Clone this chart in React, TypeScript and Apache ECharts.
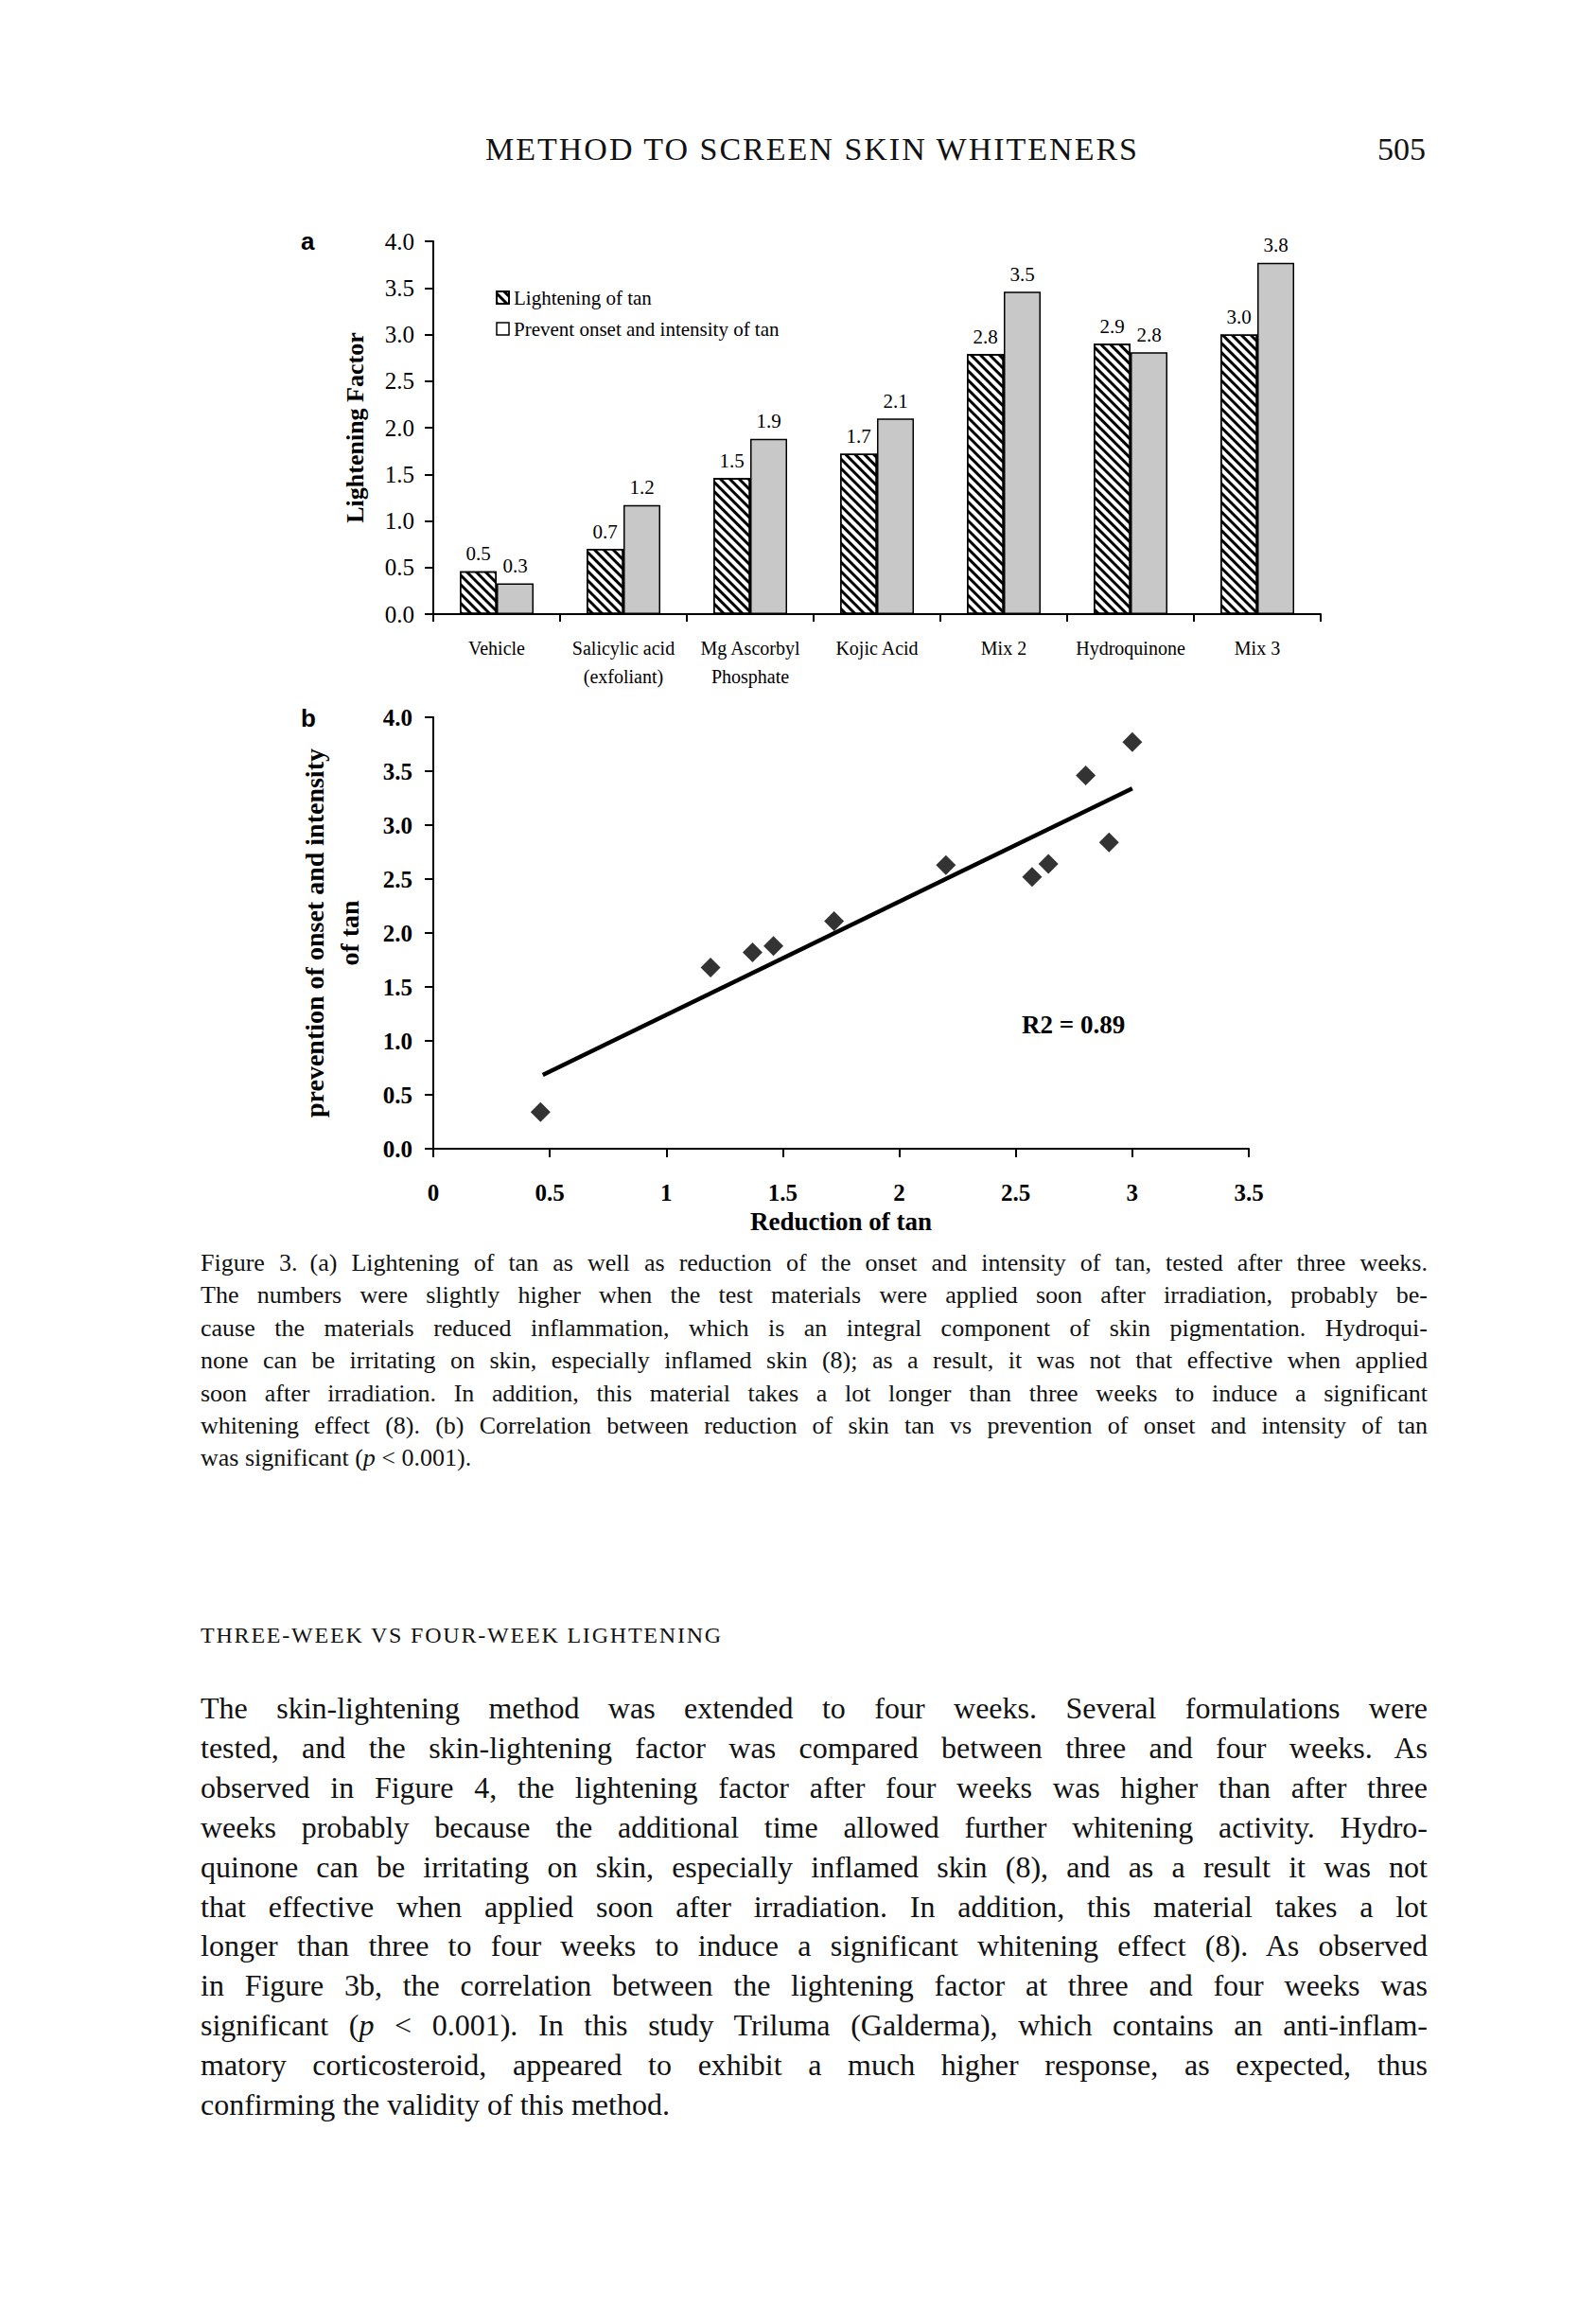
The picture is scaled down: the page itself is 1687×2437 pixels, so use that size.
import React, { useEffect, useRef } from "react";
import * as echarts from "echarts";

const SERIF = "'Liberation Serif', 'DejaVu Serif', serif";
const SANS = "'Liberation Sans', Arial, sans-serif";

// ---- Figure 3a data ----
const categories = [
  "Vehicle",
  "Salicylic acid\n(exfoliant)",
  "Mg Ascorbyl\nPhosphate",
  "Kojic Acid",
  "Mix 2",
  "Hydroquinone",
  "Mix 3",
];
const lighteningOfTan = [0.46, 0.7, 1.46, 1.72, 2.79, 2.9, 3.0];
const preventOnset = [0.33, 1.17, 1.88, 2.1, 3.46, 2.81, 3.77];
const seriesNames = ["Lightening of tan", "Prevent onset and intensity of tan"];

// ---- Figure 3b data ----
const reductionOfTan = [0.46, 1.19, 1.37, 1.46, 1.72, 2.2, 2.57, 2.64, 2.8, 2.9, 3.0];
const preventionOfTan = [0.34, 1.68, 1.82, 1.88, 2.11, 2.63, 2.52, 2.64, 3.46, 2.84, 3.77];
const trendX = [0.47, 3.0];
const trendY = [0.685, 3.34];
const yTicksA = [0, 4, 0.5];
const xTicksB = [0, 3.5, 0.5];

const captionLines = [
  "Figure 3.\u2002(a) Lightening of tan as well as reduction of the onset and intensity of tan, tested after three weeks.",
  "The numbers were slightly higher when the test materials were applied soon after irradiation, probably be-",
  "cause the materials reduced inflammation, which is an integral component of skin pigmentation. Hydroqui-",
  "none can be irritating on skin, especially inflamed skin (8); as a result, it was not that effective when applied",
  "soon after irradiation. In addition, this material takes a lot longer than three weeks to induce a significant",
  "whitening effect (8). (b) Correlation between reduction of skin tan vs prevention of onset and intensity of tan",
];

const bodyLines = [
  "The skin-lightening method was extended to four weeks. Several formulations were",
  "tested, and the skin-lightening factor was compared between three and four weeks. As",
  "observed in Figure 4, the lightening factor after four weeks was higher than after three",
  "weeks probably because the additional time allowed further whitening activity. Hydro-",
  "quinone can be irritating on skin, especially inflamed skin (8), and as a result it was not",
  "that effective when applied soon after irradiation. In addition, this material takes a lot",
  "longer than three to four weeks to induce a significant whitening effect (8). As observed",
  "in Figure 3b, the correlation between the lightening factor at three and four weeks was",
];
const bodyLinesAfterP = [
  "). In this study Triluma (Galderma), which contains an anti-inflam-",
];
const bodyLinesEnd = [
  "matory corticosteroid, appeared to exhibit a much higher response, as expected, thus",
];

function Chart() {
  const ref = useRef<HTMLDivElement>(null);
  useEffect(() => {
    if (!ref.current) return;
    const chart = echarts.init(ref.current, undefined, { renderer: "svg" });
    const axisLineStyle = { color: "#000", width: 2 };
    const hatch = {
      symbol: "rect",
      symbolSize: 1,
      dashArrayX: [1, 0],
      dashArrayY: [3, 4],
      rotation: Math.PI / 4,
      color: "#000",
      backgroundColor: "#fff",
    };
    const option: any = {
      animation: false,
      backgroundColor: "#fff",
      textStyle: { fontFamily: SERIF, color: "#000" },
      grid: [
        { left: 458, top: 255, width: 938, height: 394, outerBoundsMode: "none" },
        { left: 458, top: 758, width: 862, height: 456, outerBoundsMode: "none" },
      ],
      legend: {
        orient: "vertical",
        left: 519,
        top: 299,
        itemWidth: 13,
        itemHeight: 13,
        itemGap: 12,
        selectedMode: false,
        icon: "rect",
        textStyle: { fontFamily: SERIF, fontSize: 21, color: "#000" },
        data: [
          { name: seriesNames[0] },
          { name: seriesNames[1], itemStyle: { color: "#fff", borderColor: "#000", borderWidth: 1.5 } },
        ],
      },
      xAxis: [
        {
          type: "category",
          gridIndex: 0,
          data: categories,
          axisLine: { lineStyle: axisLineStyle },
          axisTick: { show: true, length: 8, lineStyle: axisLineStyle },
          axisLabel: {
            interval: 0,
            fontFamily: SERIF,
            fontSize: 20,
            lineHeight: 30,
            color: "#000",
            margin: 21,
          },
          splitLine: { show: false },
        },
        {
          type: "value",
          gridIndex: 1,
          min: xTicksB[0],
          max: xTicksB[1],
          interval: xTicksB[2],
          axisLine: { show: true, lineStyle: axisLineStyle },
          axisTick: { show: true, length: 9, lineStyle: axisLineStyle },
          axisLabel: {
            fontFamily: SERIF,
            fontWeight: "bold",
            fontSize: 25,
            color: "#000",
            margin: 34,
          },
          splitLine: { show: false },
          name: "Reduction of tan",
          nameLocation: "middle",
          nameGap: 63,
          nameTextStyle: { fontFamily: SERIF, fontWeight: "bold", fontSize: 27, color: "#000" },
        },
      ],
      yAxis: [
        {
          type: "value",
          gridIndex: 0,
          min: yTicksA[0],
          max: yTicksA[1],
          interval: yTicksA[2],
          axisLine: { show: true, lineStyle: axisLineStyle },
          axisTick: { show: true, length: 9, lineStyle: axisLineStyle },
          axisLabel: {
            fontFamily: SERIF,
            fontSize: 25,
            color: "#000",
            margin: 20,
            formatter: (v: number) => v.toFixed(1),
          },
          splitLine: { show: false },
          name: "Lightening Factor",
          nameLocation: "middle",
          nameGap: 70,
          nameTextStyle: { fontFamily: SERIF, fontWeight: "bold", fontSize: 26, color: "#000" },
        },
        {
          type: "value",
          gridIndex: 1,
          min: 0,
          max: 4,
          interval: 0.5,
          axisLine: { show: true, lineStyle: axisLineStyle },
          axisTick: { show: true, length: 9, lineStyle: axisLineStyle },
          axisLabel: {
            fontFamily: SERIF,
            fontWeight: "bold",
            fontSize: 25,
            color: "#000",
            margin: 22,
            formatter: (v: number) => v.toFixed(1),
          },
          splitLine: { show: false },
          name: "prevention of onset and intensity\nof tan",
          nameLocation: "middle",
          nameGap: 70,
          nameTextStyle: {
            fontFamily: SERIF,
            fontWeight: "bold",
            fontSize: 28,
            lineHeight: 37,
            color: "#000",
          },
        },
      ],
      series: [
        {
          name: seriesNames[0],
          type: "bar",
          xAxisIndex: 0,
          yAxisIndex: 0,
          data: lighteningOfTan,
          barWidth: 39,
          barGap: "0%",
          itemStyle: { color: "#fff", borderColor: "#000", borderWidth: 1.5, decal: hatch },
          label: {
            show: true,
            position: "top",
            distance: 8,
            fontFamily: SERIF,
            fontSize: 21,
            color: "#000",
            formatter: (p: any) => Number(p.value).toFixed(1),
          },
        },
        {
          name: seriesNames[1],
          type: "bar",
          xAxisIndex: 0,
          yAxisIndex: 0,
          data: preventOnset,
          barWidth: 39,
          barGap: "0%",
          itemStyle: { color: "#c8c8c8", borderColor: "#000", borderWidth: 1.5 },
          label: {
            show: true,
            position: "top",
            distance: 8,
            fontFamily: SERIF,
            fontSize: 21,
            color: "#000",
            formatter: (p: any) => Number(p.value).toFixed(1),
          },
        },
        {
          name: "points",
          type: "scatter",
          xAxisIndex: 1,
          yAxisIndex: 1,
          symbol: "diamond",
          symbolSize: 21,
          itemStyle: { color: "#000" },
          data: reductionOfTan.map((x, i) => [x, preventionOfTan[i]]),
        },
        {
          name: "trend",
          type: "line",
          xAxisIndex: 1,
          yAxisIndex: 1,
          showSymbol: false,
          lineStyle: { color: "#000", width: 4.5 },
          data: trendX.map((x, i) => [x, trendY[i]]),
        },
      ],
      graphic: [
        {
          type: "text",
          left: 318,
          top: 242,
          style: { text: "a", font: `bold 26px ${SANS}`, fill: "#000" },
        },
        {
          type: "text",
          left: 318,
          top: 746,
          style: { text: "b", font: `bold 26px ${SANS}`, fill: "#000" },
        },
        {
          type: "text",
          left: 1080,
          top: 1069,
          style: { text: "R2 = 0.89", font: `bold 27px ${SERIF}`, fill: "#000" },
        },
      ],
    };
    chart.setOption(option);
    return () => chart.dispose();
  }, []);
  return (
    <div
      ref={ref}
      style={{ position: "absolute", left: 0, top: 0, width: 1687, height: 1320 }}
    />
  );
}

const justify: React.CSSProperties = { textAlign: "justify", textAlignLast: "justify" as any };

export default function App() {
  return (
    <div
      style={{
        position: "absolute",
        left: 0,
        top: 0,
        width: 1687,
        height: 2437,
        background: "#fff",
        fontFamily: SERIF,
        color: "#111",
        overflow: "hidden",
      }}
    >
      <Chart />
      <div
        style={{
          position: "absolute",
          left: 513,
          top: 138,
          fontSize: 34,
          lineHeight: "40px",
          letterSpacing: 2,
        }}
      >
        METHOD TO SCREEN SKIN WHITENERS
      </div>
      <div
        style={{
          position: "absolute",
          right: 1687 - 1507,
          top: 138,
          fontSize: 34,
          lineHeight: "40px",
        }}
      >
        505
      </div>
      <div
        style={{
          position: "absolute",
          left: 212,
          top: 1318,
          width: 1297,
          fontSize: 26,
          lineHeight: "34.4px",
        }}
      >
        {captionLines.map((l, i) => (
          <div key={i} style={justify}>
            {l}
          </div>
        ))}
        <div>
          was significant (<i>p</i> &lt; 0.001).
        </div>
      </div>
      <div
        style={{
          position: "absolute",
          left: 212,
          top: 1713,
          fontSize: 24,
          lineHeight: "30px",
          letterSpacing: 1.8,
        }}
      >
        THREE-WEEK VS FOUR-WEEK LIGHTENING
      </div>
      <div
        style={{
          position: "absolute",
          left: 212,
          top: 1785,
          width: 1297,
          fontSize: 32,
          lineHeight: "41.9px",
        }}
      >
        {bodyLines.map((l, i) => (
          <div key={i} style={justify}>
            {l}
          </div>
        ))}
        <div style={justify}>
          significant (<i>p</i> &lt; 0.001{bodyLinesAfterP[0]}
        </div>
        {bodyLinesEnd.map((l, i) => (
          <div key={"e" + i} style={justify}>
            {l}
          </div>
        ))}
        <div>confirming the validity of this method.</div>
      </div>
    </div>
  );
}
